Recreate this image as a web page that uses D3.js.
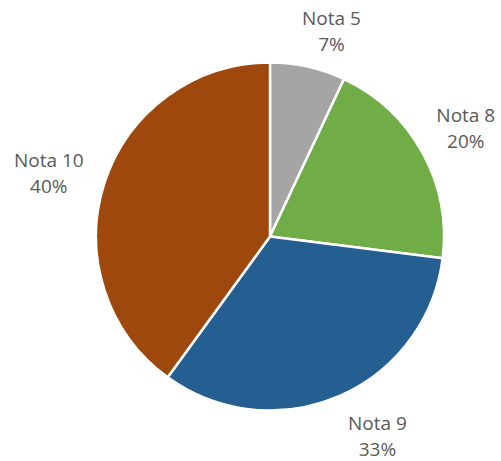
<!DOCTYPE html>
<html>
<head>
<meta charset="utf-8">
<script src="https://cdn.jsdelivr.net/npm/d3@7"></script>
<style>
  html, body { margin: 0; padding: 0; background: #ffffff; }
  svg { display: block; }
</style>
</head>
<body>
<svg id="chart" width="501" height="461"></svg>
<script>
// Data
const categories = ["Nota 5", "Nota 8", "Nota 9", "Nota 10"];
const values = [7, 20, 33, 40];
const colors = ["#A5A5A5", "#70AD47", "#255E91", "#9E480E"];

// Label nudges (layout only)
const labelNudge = [[13.5, 16.2], [3, 4.5], [20, 4.5], [-12, 11]];

const width = 501, height = 461;
const cx = 270, cy = 236.5, radius = 174, labelRadius = 220;

const svg = d3.select("#chart");
const g = svg.append("g").attr("transform", `translate(${cx},${cy})`);

const pie = d3.pie().sort(null).value(d => d.value);
const data = categories.map((c, i) => ({ name: c, value: values[i], color: colors[i] }));
const arcs = pie(data);
const total = d3.sum(values);

const arc = d3.arc().innerRadius(0).outerRadius(radius);
const labelArc = d3.arc().innerRadius(labelRadius).outerRadius(labelRadius);

g.selectAll("path.slice")
  .data(arcs)
  .join("path")
  .attr("class", "slice")
  .attr("d", arc)
  .attr("fill", d => d.data.color)
  .attr("stroke", "#ffffff")
  .attr("stroke-width", 2.5)
  .attr("stroke-linejoin", "round");

const labels = g.selectAll("text.lbl")
  .data(arcs)
  .join("text")
  .attr("class", "lbl")
  .attr("text-anchor", "middle")
  .attr("font-family", "'Open Sans', 'Noto Sans', sans-serif")
  .attr("font-size", 19)
  .attr("fill", "#595959")
  .attr("transform", (d, i) => {
    const [x, y] = labelArc.centroid(d);
    return `translate(${x + labelNudge[i][0]},${y + labelNudge[i][1]})`;
  });

labels.append("tspan")
  .attr("x", 0)
  .attr("y", -13)
  .text(d => d.data.name);
labels.append("tspan")
  .attr("x", 0)
  .attr("y", 13)
  .text(d => Math.round(d.data.value / total * 100) + "%");
</script>
</body>
</html>
